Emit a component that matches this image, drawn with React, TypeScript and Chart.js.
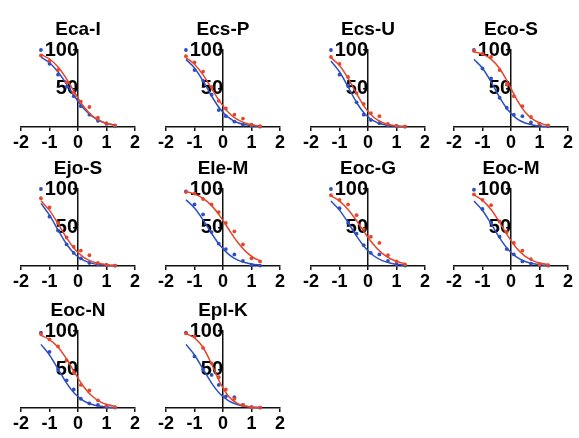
import React, { useEffect, useRef } from 'react';
import { Chart, registerables } from 'chart.js';

Chart.register(...registerables);

// ---------- data ----------
const PANEL_TITLES = ['Eca-I', 'Ecs-P', 'Ecs-U', 'Eco-S', 'Ejo-S', 'Ele-M', 'Eoc-G', 'Eoc-M', 'Eoc-N', 'Epl-K'];

// log dose of the measured points
const DOSE_X = [-1.3, -1.0, -0.7, -0.4, -0.15, 0.1, 0.4, 0.7, 1.0, 1.3];
const FIT_X = [-1.3, -1.0, -0.7, -0.4, -0.1, 0.2, 0.5, 0.8, 1.1, 1.3];

const X_TICKS = [-2, -1, 0, 1, 2];
const Y_TICKS = [50, 100];

// measured points (blue / red) per panel
const ECA_I_BLUE = [100, 82, 68, 52, 40, 27, 16, 8, 4, 1];
const ECA_I_RED = [93, 86, 74, 58, 44, 33, 26, 12, 5, 2];
const ECS_P_BLUE = [100, 74, 60, 42, 22, 14, 7, 3, 2, 0.5];
const ECS_P_RED = [92, 84, 72, 52, 34, 24, 16, 11, 3, 1];
const ECS_U_BLUE = [100, 68, 54, 32, 16, 9, 5, 2, 1, 0.5];
const ECS_U_RED = [91, 82, 65, 44, 30, 18, 14, 4, 1.5, 0.5];
const ECO_S_BLUE = [100, 76, 63, 38, 25, 16, 14, 6, 4, 1];
const ECO_S_RED = [99, 95, 91, 74, 55, 40, 27, 13, 4.5, 2];
const EJO_S_BLUE = [100, 64, 46, 28, 17, 10, 4, 2, 1, 0.5];
const EJO_S_RED = [88, 76, 56, 37, 25, 20, 14, 4, 1.5, 0.5];
const ELE_M_BLUE = [97, 80, 67, 44, 29, 22, 15, 6.6, 1, 0.5];
const ELE_M_RED = [96, 94, 87, 80, 70, 56, 45, 28, 10, 6];
const EOC_G_BLUE = [100, 75, 56, 42, 27, 17, 15, 6.6, 2, 0.5];
const EOC_G_RED = [92, 86, 80, 66, 48, 38, 30, 14, 6, 2];
const EOC_M_BLUE = [99, 74, 56, 38, 22, 15, 6, 3, 1.5, 0.5];
const EOC_M_RED = [93, 86, 79, 58, 44, 30, 20, 9, 2, 1];
const EOC_N_BLUE = [98, 73, 50, 36, 24, 12, 6, 4, 1.5, 0.5];
const EOC_N_RED = [96, 89, 80, 62, 46, 30, 23, 10, 3, 1];
const EPL_K_BLUE = [98, 67, 50, 43, 30, 15, 14, 4, 1, 0.5];
const EPL_K_RED = [97, 93, 78, 58, 40, 24, 12, 4, 1, 0.5];

// fitted curves (blue / red) per panel, read at FIT_X
const ECA_I_BLUE_FIT = [90.9, 83.4, 71.5, 55.7, 38.7, 24.0, 13.7, 7.4, 3.8, 2.5];
const ECA_I_RED_FIT = [94.2, 88.3, 78.0, 62.4, 43.7, 26.6, 14.5, 7.4, 3.6, 2.2];
const ECS_P_BLUE_FIT = [87.8, 76.7, 59.8, 40.2, 23.3, 12.1, 5.8, 2.8, 1.3, 0.75];
const ECS_P_RED_FIT = [90.2, 81.4, 67.7, 50.0, 32.3, 18.6, 9.8, 4.9, 2.4, 1.5];
const ECS_U_BLUE_FIT = [85.6, 71.8, 52.1, 31.8, 16.6, 7.9, 3.5, 1.5, 0.65, 0.4];
const ECS_U_RED_FIT = [90.1, 79.9, 63.4, 43.2, 24.9, 12.6, 5.9, 2.7, 1.2, 0.7];
const ECO_S_BLUE_FIT = [87.9, 76.3, 58.7, 38.6, 21.8, 11.0, 5.2, 2.4, 1.1, 0.6];
const ECO_S_RED_FIT = [97.7, 94.7, 88.2, 76.0, 57.1, 36.0, 19.2, 9.1, 4.1, 2.3];
const EJO_S_BLUE_FIT = [81.3, 66.1, 46.7, 28.2, 15.0, 7.3, 3.4, 1.6, 0.7, 0.4];
const EJO_S_RED_FIT = [84.6, 72.2, 55.0, 36.5, 21.3, 11.3, 5.7, 2.8, 1.3, 0.8];
const ELE_M_BLUE_FIT = [86.1, 75.3, 60.0, 42.3, 26.5, 15.1, 8.0, 4.1, 2.1, 1.3];
const ELE_M_RED_FIT = [96.6, 93.5, 87.9, 78.4, 64.5, 47.7, 31.4, 18.7, 10.3, 6.8];
const EOC_G_BLUE_FIT = [84.3, 72.6, 56.5, 38.9, 23.8, 13.3, 7.0, 3.6, 1.8, 1.1];
const EOC_G_RED_FIT = [91.2, 84.3, 73.5, 58.7, 42.3, 27.5, 16.3, 9.1, 4.9, 3.2];
const EOC_M_BLUE_FIT = [84.4, 72.0, 55.0, 36.6, 21.5, 11.5, 5.8, 2.8, 1.4, 0.8];
const EOC_M_RED_FIT = [92.3, 85.2, 73.3, 56.7, 38.5, 23.0, 12.5, 6.4, 3.2, 2.0];
const EOC_N_BLUE_FIT = [82.6, 68.8, 50.6, 32.3, 18.1, 9.3, 4.6, 2.2, 1.0, 0.6];
const EOC_N_RED_FIT = [94.5, 88.8, 78.8, 63.6, 45.0, 27.6, 15.2, 7.7, 3.8, 2.3];
const EPL_K_BLUE_FIT = [82.6, 68.8, 50.6, 32.3, 18.1, 9.3, 4.6, 2.2, 1.0, 0.6];
const EPL_K_RED_FIT = [96.6, 91.0, 78.6, 57.1, 32.6, 14.9, 6.0, 2.2, 0.8, 0.4];

const BLUE_POINTS = [ECA_I_BLUE, ECS_P_BLUE, ECS_U_BLUE, ECO_S_BLUE, EJO_S_BLUE, ELE_M_BLUE, EOC_G_BLUE, EOC_M_BLUE, EOC_N_BLUE, EPL_K_BLUE];
const RED_POINTS = [ECA_I_RED, ECS_P_RED, ECS_U_RED, ECO_S_RED, EJO_S_RED, ELE_M_RED, EOC_G_RED, EOC_M_RED, EOC_N_RED, EPL_K_RED];
const BLUE_FITS = [ECA_I_BLUE_FIT, ECS_P_BLUE_FIT, ECS_U_BLUE_FIT, ECO_S_BLUE_FIT, EJO_S_BLUE_FIT, ELE_M_BLUE_FIT, EOC_G_BLUE_FIT, EOC_M_BLUE_FIT, EOC_N_BLUE_FIT, EPL_K_BLUE_FIT];
const RED_FITS = [ECA_I_RED_FIT, ECS_P_RED_FIT, ECS_U_RED_FIT, ECO_S_RED_FIT, EJO_S_RED_FIT, ELE_M_RED_FIT, EOC_G_RED_FIT, EOC_M_RED_FIT, EOC_N_RED_FIT, EPL_K_RED_FIT];

// ---------- layout / style ----------
const COL_LEFT = [0, 145, 290, 433];
const ROW_TOP = [0, 139, 281];
const CANVAS_W = 145;
const CANVAS_H = 157;
const FONT = "'Liberation Sans', Arial, Helvetica, sans-serif";
const BLUE = '#2d4fc3';
const RED = '#e4472b';
const AXIS = '#111111';

type PanelProps = {
  title: string;
  bluePts: number[];
  redPts: number[];
  blueFit: number[];
  redFit: number[];
  left: number;
  top: number;
};

function Panel({ title, bluePts, redPts, blueFit, redFit, left, top }: PanelProps) {
  const ref = useRef<HTMLCanvasElement>(null);

  useEffect(() => {
    const canvas = ref.current;
    if (!canvas) return;
    const pts = (xs: number[], ys: number[]) => xs.map((x, i) => ({ x, y: ys[i] }));
    const chart = new Chart(canvas, {
      type: 'scatter',
      data: {
        datasets: [
          {
            type: 'scatter',
            data: pts(DOSE_X, redPts),
            pointRadius: 1.9,
            pointBackgroundColor: RED,
            pointBorderWidth: 0,
            clip: false,
          } as any,
          {
            type: 'line',
            data: pts(FIT_X, redFit),
            borderColor: RED,
            borderWidth: 1.5,
            pointRadius: 0,
            cubicInterpolationMode: 'monotone',
            fill: false,
            clip: false,
          } as any,
          {
            type: 'scatter',
            data: pts(DOSE_X, bluePts),
            pointRadius: 1.9,
            pointBackgroundColor: BLUE,
            pointBorderWidth: 0,
            clip: false,
          } as any,
          {
            type: 'line',
            data: pts(FIT_X, blueFit),
            borderColor: BLUE,
            borderWidth: 1.5,
            pointRadius: 0,
            cubicInterpolationMode: 'monotone',
            fill: false,
            clip: false,
          } as any,
        ],
      },
      options: {
        responsive: false,
        animation: false,
        devicePixelRatio: 1,
        events: [],
        layout: { padding: { left: 21, right: 10, top: 0, bottom: 0 } },
        plugins: {
          legend: { display: false },
          tooltip: { enabled: false },
          title: {
            display: true,
            text: title,
            color: '#000',
            font: { family: FONT, size: 19, weight: 'bold' },
            padding: { top: 18.6, bottom: 8.6 },
          },
        },
        scales: {
          x: {
            type: 'linear',
            min: -2,
            max: 2,
            position: 'bottom',
            afterBuildTicks: (axis: any) => {
              axis.ticks = X_TICKS.map((v) => ({ value: v }));
            },
            afterFit: (scale: any) => {
              scale.height = 30;
            },
            grid: {
              display: true,
              drawOnChartArea: false,
              drawTicks: true,
              tickLength: 4,
              color: AXIS,
              lineWidth: 1.5,
            },
            border: { display: true, color: AXIS, width: 1.5 },
            ticks: {
              color: '#000',
              font: { family: FONT, size: 18, weight: 'bold' },
              padding: 1,
              maxRotation: 0,
              autoSkip: false,
            },
          },
          y: {
            type: 'linear',
            min: 0,
            max: 100,
            position: { x: 0 },
            afterBuildTicks: (axis: any) => {
              axis.ticks = Y_TICKS.map((v) => ({ value: v }));
            },
            grid: {
              display: true,
              drawOnChartArea: false,
              drawTicks: true,
              tickLength: 4,
              color: AXIS,
              lineWidth: 1.5,
            },
            border: { display: true, color: AXIS, width: 1.5 },
            ticks: {
              color: '#000',
              font: { family: FONT, size: 20, weight: 'bold' },
              padding: 0,
            },
          },
        } as any,
      },
    } as any);
    return () => chart.destroy();
  }, [title, bluePts, redPts, blueFit, redFit]);

  return (
    <canvas
      ref={ref}
      width={CANVAS_W}
      height={CANVAS_H}
      style={{ position: 'absolute', left, top, width: CANVAS_W, height: CANVAS_H, display: 'block' }}
    />
  );
}

export default function App() {
  return (
    <div style={{ position: 'absolute', left: 0, top: 0, width: 579, height: 438, background: '#fff' }}>
      {PANEL_TITLES.map((t, i) => (
        <Panel
          key={t}
          title={t}
          bluePts={BLUE_POINTS[i]}
          redPts={RED_POINTS[i]}
          blueFit={BLUE_FITS[i]}
          redFit={RED_FITS[i]}
          left={COL_LEFT[i % 4]}
          top={ROW_TOP[Math.floor(i / 4)]}
        />
      ))}
    </div>
  );
}
